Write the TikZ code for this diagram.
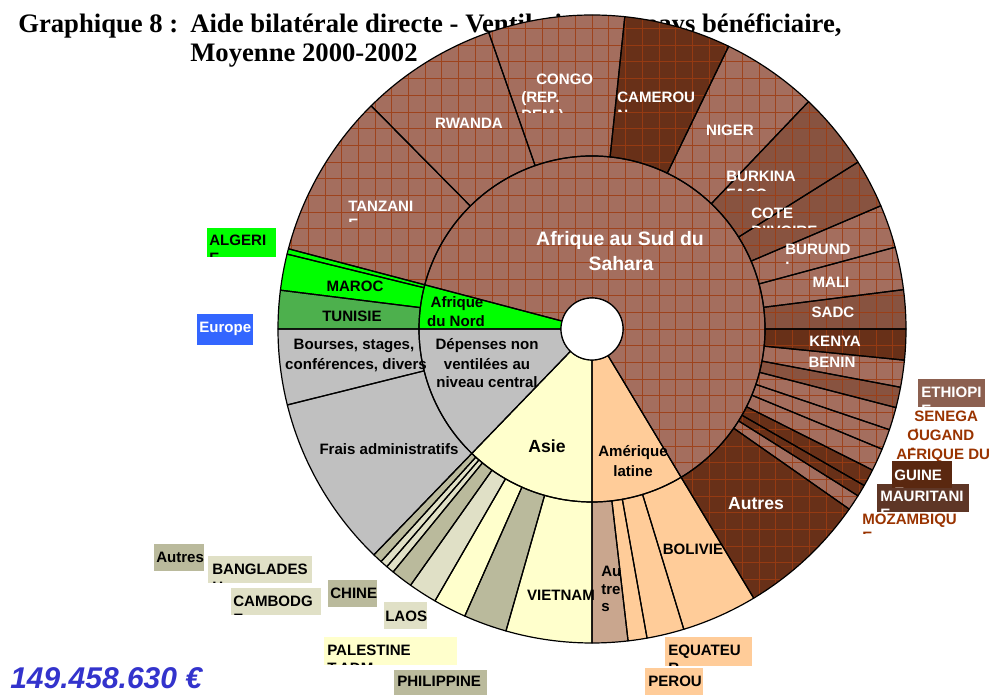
\documentclass[tikz,border=0pt]{standalone}
\usepackage{fontspec}
\setmainfont{Liberation Serif}
\newfontfamily\arialf{Liberation Sans}
\usetikzlibrary{calc}

\definecolor{brL}{HTML}{A46E5E}
\definecolor{brM}{HTML}{885340}
\definecolor{brD}{HTML}{683018}
\definecolor{gridbr}{HTML}{9E3C12}
\definecolor{pgrey}{HTML}{C0C0C0}
\definecolor{nafgreen}{HTML}{00FF00}
\definecolor{tungreen}{HTML}{4DB04D}
\definecolor{asyel}{HTML}{FFFFCC}
\definecolor{aspale}{HTML}{E0E0C6}
\definecolor{asolive}{HTML}{BABA9C}
\definecolor{lapeach}{HTML}{FFCC99}
\definecolor{latan}{HTML}{C9A68E}
\definecolor{eurblue}{HTML}{3366FF}
\definecolor{sumblue}{HTML}{3333CC}
\definecolor{lbltxt}{HTML}{993300}
\definecolor{ethbox}{HTML}{8C6050}
\definecolor{guibox}{HTML}{5A2810}
\definecolor{maubox}{HTML}{5E3626}

\tikzset{
  seg/.style={draw=black, line width=0.9pt, line join=round},
  lbl/.style={font=\arialf\bfseries\fontsize{11.3}{13}\selectfont, inner sep=0pt, text=black},
  wlbl/.style={lbl, text=white},
  blbl/.style={lbl, text=lbltxt},
  midlbl/.style={font=\arialf\bfseries\fontsize{13.2}{15}\selectfont, inner sep=0pt},
  biglbl/.style={font=\arialf\bfseries\fontsize{14.6}{17}\selectfont, inner sep=0pt},
  titl/.style={font=\bfseries\fontsize{20}{24}\selectfont, inner sep=0pt},
}

% one ring sector: start angle, end angle, inner radius, outer radius, fill
\newcommand\segfill[5]{\fill[#5] (#1:#3) arc[start angle=#1, end angle=#2, radius=#3] -- (#2:#4) arc[start angle=#2, end angle=#1, radius=#4] -- cycle;}
\newcommand\segline[5]{\draw[seg] (#1:#3) arc[start angle=#1, end angle=#2, radius=#3] -- (#2:#4) arc[start angle=#2, end angle=#1, radius=#4] -- cycle;}

% all sectors of the two rings
\newcommand\allsegs[1]{%
  % inner ring: regions
  #1{-59}{165.2}{31}{173}{brL}%
  #1{165.2}{180}{31}{173}{nafgreen}%
  #1{180}{226}{31}{173}{pgrey}%
  #1{226}{270}{31}{173}{asyel}%
  #1{270}{301}{31}{173}{lapeach}%
  % outer ring: Afrique au Sud du Sahara
  #1{134.7}{165.2}{173}{314}{brL}% TANZANIE
  #1{109.2}{134.7}{173}{314}{brL}% RWANDA
  #1{84}{109.2}{173}{314}{brL}% CONGO
  #1{64.2}{84}{173}{314}{brD}% CAMEROUN
  #1{46.4}{64.2}{173}{314}{brL}% NIGER
  #1{32.1}{46.4}{173}{314}{brM}% BURKINA FASO
  #1{23.1}{32.1}{173}{314}{brM}% COTE D'IVOIRE
  #1{15.1}{23.1}{173}{314}{brL}% BURUNDI
  #1{7.2}{15.1}{173}{314}{brL}% MALI
  #1{0}{7.2}{173}{314}{brM}% SADC
  #1{-5.7}{0}{173}{314}{brD}% KENYA
  #1{-10.7}{-5.7}{173}{314}{brL}% BENIN
  #1{-14.5}{-10.7}{173}{314}{brM}% ETHIOPIE
  #1{-18.7}{-14.5}{173}{314}{brL}% SENEGAL
  #1{-22.5}{-18.7}{173}{314}{brL}% OUGANDA
  #1{-26.7}{-22.5}{173}{314}{brL}% AFRIQUE DU SUD
  #1{-29.9}{-26.7}{173}{314}{brD}% GUINEE
  #1{-32.1}{-29.9}{173}{314}{brD}% MAURITANIE
  #1{-35}{-32.1}{173}{314}{brL}% MOZAMBIQUE
  #1{-59}{-35}{173}{314}{brD}% Autres
  % outer ring: Afrique du Nord
  #1{165.2}{166.2}{173}{314}{nafgreen}% ALGERIE
  #1{166.2}{172.9}{173}{314}{nafgreen}% MAROC
  #1{172.9}{180}{173}{314}{tungreen}% TUNISIE
  % outer ring: depenses non ventilees
  #1{180}{194}{173}{314}{pgrey}%
  #1{194}{226}{173}{314}{pgrey}%
  % outer ring: Asie
  #1{226}{227.8}{173}{314}{asolive}% Autres
  #1{227.8}{229.2}{173}{314}{aspale}% BANGLADESH
  #1{229.2}{230.7}{173}{314}{aspale}% CAMBODGE
  #1{230.7}{234.7}{173}{314}{asolive}% CHINE
  #1{234.7}{240}{173}{314}{aspale}% LAOS
  #1{240}{246.1}{173}{314}{asyel}% PALESTINE
  #1{246.1}{254.1}{173}{314}{asolive}% PHILIPPINES
  #1{254.1}{270}{173}{314}{asyel}% VIETNAM
  % outer ring: Amerique latine
  #1{270}{276.6}{173}{314}{latan}% Autres
  #1{276.6}{280.1}{173}{314}{lapeach}% PEROU
  #1{280.1}{287}{173}{314}{lapeach}% EQUATEUR
  #1{287}{301}{173}{314}{lapeach}% BOLIVIE
}

% label whose second line is cut off: name, style, base west point, line 1, line 2, visible depth
\newcommand\cutlab[6]{%
  \node[#2, anchor=base west] (#1) at #3 {#4};
  \begin{scope}
    \clip ($#3+(-4,-6.6)$) rectangle ($#3+(150,-7.2-#6)$);
    \node[#2, anchor=base west] (#1-b) at ($#3+(0,-18)$) {#5};
  \end{scope}}

% label in a coloured box that clips its text: name, lower left, upper right, fill, style, base west point, line 1, line 2
\newcommand\boxlab[8]{%
  \fill[#4] #2 rectangle #3;
  \begin{scope}
    \clip #2 rectangle #3;
    \node[#5, anchor=base west] (#1) at #6 {#7};
    \node[#5, anchor=base west] (#1-b) at ($#6+(0,-18)$) {#8};
  \end{scope}}

\begin{document}
\begin{tikzpicture}[x=0.75pt, y=0.75pt]
\useasboundingbox (0,0) rectangle (992,695);

% title
\node[titl, anchor=base west] (t1) at (18,662) {Graphique 8 :};
\node[titl, anchor=base west] (t2) at (190,662) {Aide bilatérale directe - Ventilation par pays bénéficiaire,};
\node[titl, anchor=base west] (t3) at (190,633) {Moyenne 2000-2002};

\begin{scope}[shift={(592,366)}]
  \allsegs\segfill
  % hatching grid of the Sub-Saharan sectors
  \begin{scope}
    \clip (-59:31) arc[start angle=-59, end angle=165.2, radius=31] -- (165.2:314) arc[start angle=165.2, end angle=-59, radius=314] -- cycle;
    \draw[gridbr, line width=0.45pt, opacity=0.85] (-330,-330) grid[step=16.7] (330,330);
  \end{scope}
  \allsegs\segline
  \node[circle, draw=black, line width=0.9pt, fill=white, minimum size=46.5pt, inner sep=0pt] (hole) at (0,0) {};
\end{scope}

% inner ring labels
\node[biglbl, text=white, anchor=base] (sahara1) at (620,449) {Afrique au Sud du};
\node[biglbl, text=white, anchor=base] (sahara2) at (621,424) {Sahara};
\node[lbl, anchor=base] (nord1) at (457,387) {Afrique};
\node[lbl, anchor=base] (nord2) at (456,368) {du Nord};
\node[lbl, anchor=base] (dep1) at (487,345) {Dépenses non};
\node[lbl, anchor=base] (dep2) at (487,325) {ventilées au};
\node[lbl, anchor=base] (dep3) at (487,307) {niveau central};
\node[midlbl, anchor=base] (asie) at (547,242) {Asie};
\node[lbl, anchor=base] (amer1) at (633,238) {Amérique};
\node[lbl, anchor=base] (amer2) at (633,218) {latine};

% outer ring labels
\node[lbl, anchor=base] (bourses1) at (354,345) {Bourses, stages,};
\node[lbl, anchor=base] (bourses2) at (356,325) {conférences, divers};
\node[lbl, anchor=base] (frais) at (389,240) {Frais administratifs};
\node[lbl, anchor=base] (maroc) at (355,403) {MAROC};
\node[lbl, anchor=base] (tunisie) at (352,373) {TUNISIE};
\cutlab{tanzanie}{wlbl}{(348,483)}{TANZANI}{E}{2}
\node[wlbl, anchor=base] (rwanda) at (469,566) {RWANDA};
\node[wlbl, anchor=base west] (congo) at (536,610) {CONGO};
\cutlab{congorep}{wlbl}{(521,592)}{(REP.}{DEM.)}{2}
\cutlab{cameroun}{wlbl}{(617,592)}{CAMEROU}{N}{1.5}
\node[wlbl, anchor=base] (niger) at (730,559) {NIGER};
\cutlab{burkina}{wlbl}{(726,513)}{BURKINA}{FASO}{1.5}
\cutlab{cote}{wlbl}{(751,476)}{COTE}{D’IVOIRE}{1.5}
\cutlab{burundi}{wlbl}{(785,440)}{BURUND}{I}{1.5}
\node[wlbl, anchor=base] (mali) at (831,407) {MALI};
\node[wlbl, anchor=base] (sadc) at (833,377) {SADC};
\node[wlbl, anchor=base] (kenya) at (835,348) {KENYA};
\node[wlbl, anchor=base] (benin) at (832,327) {BENIN};
\node[midlbl, text=white, anchor=base] (autresafr) at (756,185) {Autres};
\node[lbl, anchor=base] (vietnam) at (561,94) {VIETNAM};
\node[lbl, anchor=base west] (autlat1) at (601,118) {Au};
\node[lbl, anchor=base west] (autlat2) at (601,100) {tre};
\node[lbl, anchor=base west] (autlat3) at (601,83) {s};
\node[lbl, anchor=base] (bolivie) at (693,140) {BOLIVIE};

% labels of the small sectors
\boxlab{algerie}{(207,438)}{(276,467)}{nafgreen}{lbl}{(209,449)}{ALGERI}{E}
\boxlab{europe}{(197,350)}{(253,381)}{eurblue}{wlbl}{(199,362)}{Europe}{}
\boxlab{ethiopie}{(918,288)}{(985,316)}{ethbox}{wlbl}{(921,297)}{ETHIOPI}{E}
\cutlab{senegal}{blbl}{(914,273)}{SENEGA}{L}{1.5}
\cutlab{ouganda}{blbl}{(907,254)}{OUGAND}{A}{1.5}
\cutlab{afsud}{blbl}{(896,235)}{AFRIQUE DU}{SUD}{1.5}
\boxlab{mauritanie}{(877,183)}{(969,211)}{maubox}{wlbl}{(880,193)}{MAURITANI}{E}
\boxlab{guinee}{(892,207)}{(952,234)}{guibox}{wlbl}{(894,214)}{GUINE}{E}
\cutlab{mozambique}{blbl}{(862,170)}{MOZAMBIQU}{E}{1.5}

\boxlab{autresasie}{(154,124)}{(204,151)}{asolive}{lbl}{(156,132)}{Autres}{}
\boxlab{bangladesh}{(208,112)}{(312,139)}{aspale}{lbl}{(212,120)}{BANGLADES}{H}
\boxlab{cambodge}{(231,80)}{(321,107)}{aspale}{lbl}{(233,88)}{CAMBODG}{E}
\boxlab{chine}{(328,88)}{(377,115)}{asolive}{lbl}{(330,96)}{CHINE}{}
\boxlab{laos}{(384,66)}{(427,93)}{aspale}{lbl}{(385,73)}{LAOS}{}
\boxlab{palestine}{(324,30)}{(457,58)}{asyel}{lbl}{(327,39)}{PALESTINE}{T.ADM.}
\boxlab{philippine}{(394,0)}{(487,25)}{asolive}{lbl}{(397,8)}{PHILIPPINE}{}
\boxlab{equateur}{(665,29)}{(752,58)}{lapeach}{lbl}{(668,39)}{EQUATEU}{R}
\boxlab{perou}{(645,0)}{(703,27)}{lapeach}{lbl}{(648,8)}{PEROU}{}

% total amount
\node[font=\arialf\bfseries\itshape\fontsize{22.5}{26}\selectfont, text=sumblue, inner sep=0pt, anchor=base west] (total) at (10,6) {149.458.630 €};
\end{tikzpicture}
\end{document}
